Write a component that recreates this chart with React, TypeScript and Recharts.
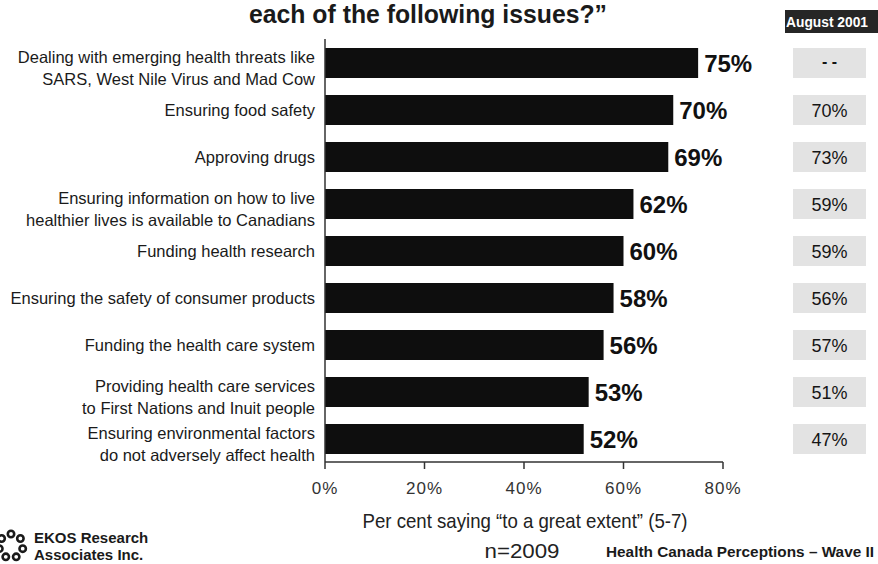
import { BarChart, Bar, XAxis, YAxis, LabelList } from 'recharts';

// Issue wording, one entry per bar, split where the label wraps
const issueLines: string[][] = [
  ['Dealing with emerging health threats like', 'SARS, West Nile Virus and Mad Cow'],
  ['Ensuring food safety'],
  ['Approving drugs'],
  ['Ensuring information on how to live', 'healthier lives is available to Canadians'],
  ['Funding health research'],
  ['Ensuring the safety of consumer products'],
  ['Funding the health care system'],
  ['Providing health care services', 'to First Nations and Inuit people'],
  ['Ensuring environmental factors', 'do not adversely affect health'],
];

// Per cent saying "to a great extent" (5-7), current wave
const greatExtent = [75, 70, 69, 62, 60, 58, 56, 53, 52];

// Same question, August 2001 (first issue was not asked)
const august2001: (number | null)[] = [null, 70, 73, 59, 59, 56, 57, 51, 47];

const percentTicks = [0, 20, 40, 60, 80];

const data = issueLines.map((lines, i) => ({
  issue: lines.join(' '),
  value: greatExtent[i],
  prior: august2001[i] == null ? '- -' : `${august2001[i]}%`,
}));

const linesByIssue = new Map(issueLines.map((lines) => [lines.join(' '), lines]));

const FONT = '"Liberation Sans", Arial, sans-serif';

function IssueTick(props: any) {
  const { x, y, payload } = props;
  const lines = linesByIssue.get(payload.value) ?? [payload.value];
  const right = x - 2;
  if (lines.length === 1) {
    return (
      <text x={right} y={y + 6} textAnchor="end" fontSize={16.5} fill="#1a1a1a" fontFamily={FONT}>
        {lines[0]}
      </text>
    );
  }
  return (
    <text x={right} y={y} textAnchor="end" fontSize={16.5} fill="#1a1a1a" fontFamily={FONT}>
      <tspan x={right} y={y}>{lines[0]}</tspan>
      <tspan x={right} y={y + 22}>{lines[1]}</tspan>
    </text>
  );
}

function ValueLabel(props: any) {
  const { x, y, width, height, value } = props;
  return (
    <text
      x={x + width + 6}
      y={y + height / 2 + 9}
      fontSize={24}
      fontWeight="bold"
      fill="#111"
      fontFamily={FONT}
    >
      {`${value}%`}
    </text>
  );
}

// Grey box in the right-hand column holding the 2001 figure
function PriorBox(props: any) {
  const { y, height, value } = props;
  const missing = value === '- -';
  return (
    <g>
      <rect x={793} y={y} width={73} height={height} fill="#e3e3e3" />
      <text
        x={829.5}
        y={y + height / 2 + (missing ? 4 : 6.5)}
        textAnchor="middle"
        fontSize={missing ? 16 : 18}
        fontWeight={missing ? 'bold' : 'normal'}
        fill="#151515"
        fontFamily={FONT}
      >
        {value}
      </text>
    </g>
  );
}

// EKOS mark: a small wreath of curls
function Logo() {
  const cx = 11;
  const cy = 546;
  const curls = [0, 1, 2, 3, 4, 5, 6];
  return (
    <g fill="none" stroke="#1a1a1a" strokeWidth={2.6} strokeLinecap="round">
      {curls.map((k) => {
        const a = (k / curls.length) * Math.PI * 2 - Math.PI / 2;
        const px = cx + Math.cos(a) * 12;
        const py = cy + Math.sin(a) * 12;
        return <circle key={k} cx={px} cy={py} r={3.2} />;
      })}
    </g>
  );
}

export default function App() {
  return (
    <div
      style={{
        position: 'absolute',
        left: 0,
        top: 0,
        width: 878,
        height: 564,
        background: '#fff',
        fontFamily: FONT,
        overflow: 'hidden',
      }}
    >
      <BarChart
        width={878}
        height={564}
        data={data}
        layout="vertical"
        margin={{ top: 39, right: 155, bottom: 72, left: 0 }}
        barSize={30}
      >
        <XAxis
          type="number"
          domain={[0, 80]}
          ticks={percentTicks}
          tickFormatter={(v: number) => `${v}%`}
          height={30}
          tickSize={7}
          tickMargin={13}
          axisLine={{ stroke: '#333', strokeWidth: 1.5 }}
          tickLine={{ stroke: '#333', strokeWidth: 1.5 }}
          tick={{ fontSize: 17, fill: '#333', fontFamily: FONT, letterSpacing: 1 }}
          interval={0}
        />
        <YAxis
          type="category"
          dataKey="issue"
          width={325}
          axisLine={{ stroke: '#333', strokeWidth: 1.5 }}
          tickLine={false}
          tick={<IssueTick />}
          interval={0}
        />
        <Bar dataKey="value" fill="#0e0e0e" isAnimationActive={false}>
          <LabelList dataKey="value" content={<ValueLabel />} />
          <LabelList dataKey="prior" content={<PriorBox />} />
        </Bar>
      </BarChart>

      <svg
        width={878}
        height={564}
        style={{ position: 'absolute', left: 0, top: 0, pointerEvents: 'none' }}
        fontFamily={FONT}
      >
        <text x={428} y={23} textAnchor="middle" fontSize={25} fontWeight="bold" fill="#1a1a1a"
          textLength={358} lengthAdjust="spacingAndGlyphs">
          each of the following issues?”
        </text>

        <rect x={785} y={10} width={93} height={23} fill="#262626" />
        <text x={827} y={27} textAnchor="middle" fontSize={14.5} fontWeight="bold" fill="#fff"
          textLength={82} lengthAdjust="spacingAndGlyphs">
          August 2001
        </text>

        <text x={525} y={528} textAnchor="middle" fontSize={21} fill="#222"
          textLength={325} lengthAdjust="spacingAndGlyphs">
          Per cent saying “to a great extent” (5-7)
        </text>
        <text x={522} y={558} textAnchor="middle" fontSize={20} fill="#222"
          textLength={75} lengthAdjust="spacingAndGlyphs">
          n=2009
        </text>
        <text x={606} y={557} fontSize={15} fontWeight="bold" fill="#1a1a1a"
          textLength={268} lengthAdjust="spacingAndGlyphs">
          Health Canada Perceptions – Wave II
        </text>

        <Logo />
        <text x={34} y={543} fontSize={15} fontWeight="bold" fill="#1a1a1a">EKOS Research</text>
        <text x={34} y={560} fontSize={15} fontWeight="bold" fill="#1a1a1a">Associates Inc.</text>
      </svg>
    </div>
  );
}
